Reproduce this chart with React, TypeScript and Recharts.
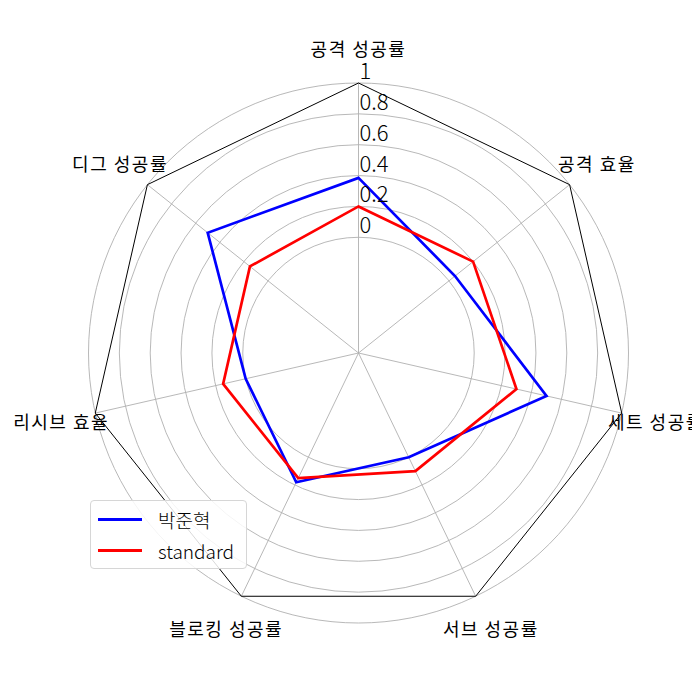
import React from 'react';
import { RadarChart, Radar, PolarGrid, PolarAngleAxis, PolarRadiusAxis, Legend } from 'recharts';

const categories = ['공격 성공률', '공격 효율', '세트 성공률', '서브 성공률', '블로킹 성공률', '리시브 효율', '디그 성공률'];
const seriesNames = ['박준혁', 'standard'];
const playerValues = [0.385, 0.05, 0.5, 0.0, 0.18, 0.0, 0.5];
const standardValues = [0.2, 0.2, 0.3, 0.1, 0.15, 0.15, 0.15];
const radiusTicks = [0, 0.2, 0.4, 0.6, 0.8, 1];
const radiusDomain = [-0.75, 1];

const data = categories.map((name, i) => ({
  name,
  player: playerValues[i],
  standard: standardValues[i],
}));

const FONT = '"Noto Sans CJK KR", "Noto Sans", sans-serif';
const CX = 350.5;
const CY = 345;
const OUTER = 270;
const LABEL_R = 305;

function AngleTick(props: any) {
  const { x, y, payload } = props;
  const dx = x - CX;
  const dy = y - CY;
  const len = Math.sqrt(dx * dx + dy * dy) || 1;
  return (
    <text
      x={CX + (dx / len) * LABEL_R}
      y={CY + (dy / len) * LABEL_R}
      textAnchor="middle"
      dominantBaseline="central"
      fontSize={18}
      letterSpacing={1.5}
      fontFamily={FONT}
      fill="#000"
    >
      {payload.value}
    </text>
  );
}

function RadiusTick(props: any) {
  const { x, y, payload } = props;
  const v = Math.round(payload.value * 10) / 10;
  if (v < 0) return null;
  return (
    <text x={x + 1} y={y - 4} textAnchor="start" fontSize={22} fontWeight={300} fontFamily={FONT} fill="#000">
      {String(v)}
    </text>
  );
}

function LegendBox(props: any) {
  const items = [...(props.payload || [])].sort(
    (a: any, b: any) => seriesNames.indexOf(a.value) - seriesNames.indexOf(b.value)
  );
  return (
    <div
      style={{
        width: 157,
        height: 69,
        border: '1px solid #d6d6d6',
        borderRadius: 4,
        background: 'rgba(255,255,255,0.85)',
        boxSizing: 'border-box',
        paddingTop: 3,
      }}
    >
      {items.map((it: any) => (
        <div key={it.value} style={{ display: 'flex', alignItems: 'center', height: 31, fontFamily: FONT, fontSize: 19 }}>
          <div style={{ width: 44, height: 3, background: it.color, marginLeft: 7, marginRight: 16 }} />
          <span style={{ fontWeight: 300 }}>{it.value}</span>
        </div>
      ))}
    </div>
  );
}

export default function App() {
  return (
    <div style={{ width: 692, height: 684, fontFamily: FONT, background: '#fff' }}>
      <RadarChart width={692} height={684} data={data} cx={CX} cy={CY} outerRadius={OUTER}>
        <PolarGrid gridType="circle" stroke="#b0b0b0" strokeWidth={0.9} />
        <PolarGrid gridType="polygon" polarRadius={[OUTER]} radialLines={false} stroke="#000" strokeWidth={1} />
        <PolarAngleAxis dataKey="name" tick={<AngleTick />} tickLine={false} axisLine={false} />
        <PolarRadiusAxis
          angle={90}
          type="number"
          domain={radiusDomain}
          allowDecimals
          allowDataOverflow
          tickCount={8}
          ticks={radiusTicks}
          tick={<RadiusTick />}
          axisLine={false}
          tickLine={false}
        />
        <Radar name={seriesNames[0]} dataKey="player" stroke="#0000ff" strokeWidth={2.7} fill="none" fillOpacity={0} isAnimationActive={false} />
        <Radar name={seriesNames[1]} dataKey="standard" stroke="#ff0000" strokeWidth={2.7} fill="none" fillOpacity={0} isAnimationActive={false} />
        <Legend
          content={<LegendBox />}
          wrapperStyle={{ position: 'absolute', left: 82, top: 492, width: 'auto', height: 'auto' }}
        />
      </RadarChart>
    </div>
  );
}
